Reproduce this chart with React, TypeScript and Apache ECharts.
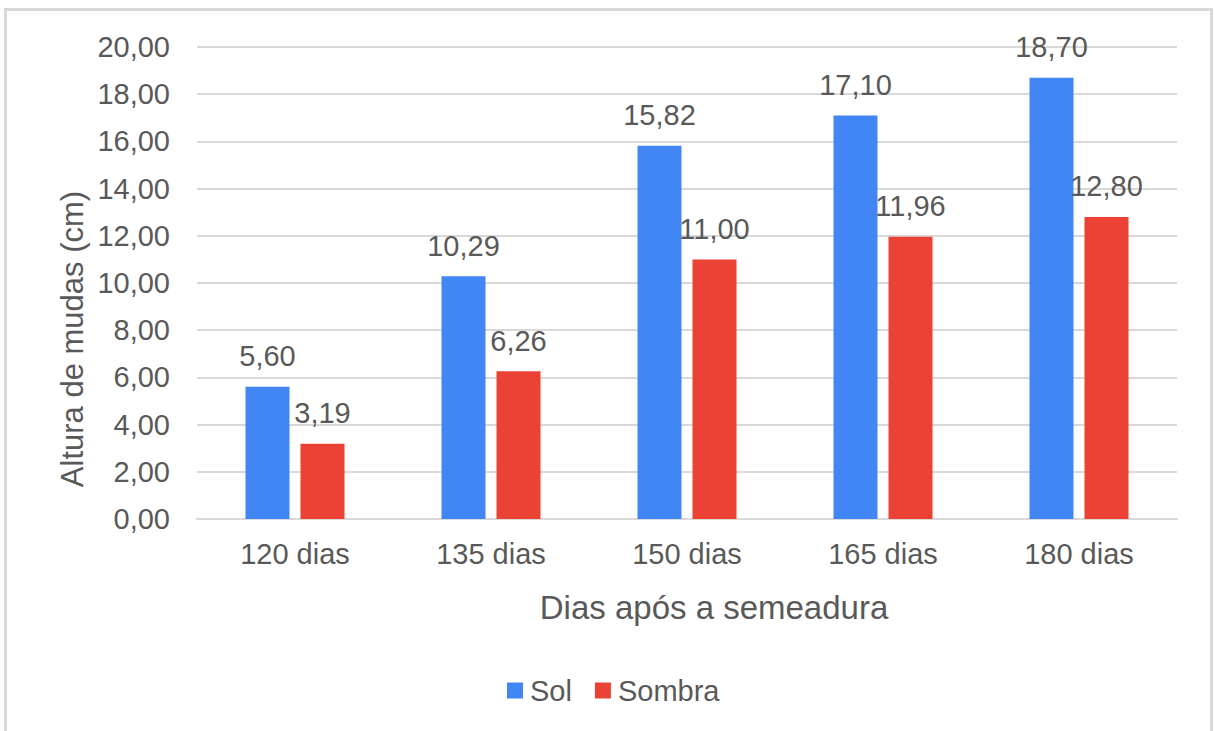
import React, { useEffect, useRef } from "react";
import * as echarts from "echarts";

const categories = ["120 dias", "135 dias", "150 dias", "165 dias", "180 dias"];
const solValues = [5.6, 10.29, 15.82, 17.1, 18.7];
const sombraValues = [3.19, 6.26, 11.0, 11.96, 12.8];
const xAxisTitle = "Dias após a semeadura";
const yAxisTitle = "Altura de mudas (cm)";

const fmt = (v: number) => v.toFixed(2).replace(".", ",");
const TEXT = "#595959";
const FONT = "'Liberation Sans', Arial, sans-serif";

export default function App() {
  const ref = useRef<HTMLDivElement>(null);
  useEffect(() => {
    document.body.style.margin = "0";
    const chart = echarts.init(ref.current!, null, { renderer: "svg" });
    const labelCfg = {
      show: true,
      position: "top",
      distance: 16,
      color: TEXT,
      fontSize: 29,
      fontFamily: FONT,
      formatter: (p: any) => fmt(p.value),
    };
    chart.setOption({
      animation: false,
      backgroundColor: "#ffffff",
      textStyle: { fontFamily: FONT },
      graphic: [
        {
          type: "rect",
          shape: { x: 5.5, y: 9.5, width: 1206, height: 740 },
          style: { fill: "none", stroke: "#d9d9d9", lineWidth: 3 },
          silent: true,
        },
        {
          type: "text",
          x: 714,
          y: 607,
          style: {
            text: xAxisTitle,
            fill: TEXT,
            font: `33px ${FONT}`,
            align: "center",
            verticalAlign: "middle",
          },
        },
        {
          type: "text",
          x: 72,
          y: 339,
          rotation: Math.PI / 2,
          style: {
            text: yAxisTitle,
            fill: TEXT,
            font: `31px ${FONT}`,
            align: "center",
            verticalAlign: "middle",
          },
        },
      ],
      grid: { left: 197, right: 37, top: 47, bottom: 212, containLabel: false },
      legend: {
        top: 671,
        left: 502,
        icon: "rect",
        itemWidth: 16,
        itemHeight: 16,
        itemGap: 23,
        textStyle: { color: TEXT, fontSize: 29, fontFamily: FONT, padding: [0, 0, 0, 2] },
        data: ["Sol", "Sombra"],
      },
      xAxis: {
        type: "category",
        data: categories,
        axisLine: { lineStyle: { color: "#d9d9d9", width: 2 } },
        axisTick: { show: false },
        axisLabel: { color: TEXT, fontSize: 29, margin: 20, fontFamily: FONT },
      },
      yAxis: {
        type: "value",
        min: 0,
        max: 20,
        interval: 2,
        axisLine: { show: false },
        axisTick: { show: false },
        splitLine: { lineStyle: { color: "#d9d9d9", width: 2 } },
        axisLabel: { color: TEXT, fontSize: 29, margin: 27, formatter: (v: number) => fmt(v), fontFamily: FONT },
      },
      series: [
        {
          name: "Sol",
          type: "bar",
          data: solValues,
          barWidth: 44,
          barGap: "25%",
          itemStyle: { color: "#4285F4" },
          label: labelCfg,
        },
        {
          name: "Sombra",
          type: "bar",
          data: sombraValues,
          barWidth: 44,
          barGap: "25%",
          itemStyle: { color: "#EA4335" },
          label: labelCfg,
        },
      ],
    });
    return () => chart.dispose();
  }, []);
  return <div ref={ref} style={{ width: 1214, height: 731 }} />;
}
